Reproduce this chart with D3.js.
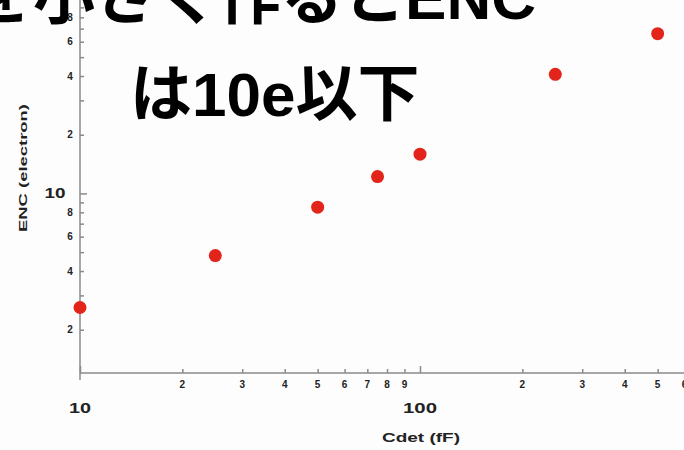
<!DOCTYPE html>
<html>
<head>
<meta charset="utf-8">
<script src="https://cdn.jsdelivr.net/npm/d3@7"></script>
<style>
  body { margin: 0; background: #fdfdfd; }
  svg { display: block; }
  .axis path, .axis line { stroke: #8a8a8a; stroke-width: 1.5; }
  .tk { font-family: "Liberation Sans", Arial, sans-serif; font-weight: bold; fill: #222; }
  .title { font-family: "Liberation Sans", "Noto Sans CJK JP", sans-serif; font-weight: bold; fill: #000; }
</style>
</head>
<body>
<script>
// data
var cdet = [10, 25, 50, 75, 100, 250, 500];      // fF
var enc = [2.6, 4.8, 8.5, 12.2, 15.9, 40.8, 66];  // electrons

var xMajor = [10, 100];
var xMinor = [20, 30, 40, 50, 60, 70, 80, 90, 200, 300, 400, 500, 600, 700, 800, 900];
var yMajor = [10];
var yMinor = [2, 3, 4, 5, 6, 7, 8, 9, 20, 30, 40, 50, 60, 70, 80, 90];
var yLabelled = [2, 4, 6, 8, 20, 40, 60, 80];

var titleLines = ["Cdetを小さく作るとENC", "は10e以下"];

var W = 684, H = 450;

var svg = d3.select("body").append("svg")
    .attr("width", W)
    .attr("height", H);

// scales
var x = d3.scaleLog().domain([10, 1000]).range([80, 760]);
var y = d3.scaleLog().domain([1.2, 100]).range([373, 373 - 195 * Math.log10(100 / 1.2)]);

// x axis, ticks point inward
svg.append("g")
    .attr("class", "axis")
    .attr("transform", "translate(0,373)")
    .call(d3.axisBottom(x).tickValues(xMinor).tickSize(-4).tickFormat("").tickSizeOuter(0))
    .call(g => g.select(".domain").attr("d", "M" + x(10) + ",0H" + x(1000)));
svg.append("g")
    .attr("class", "axis")
    .attr("transform", "translate(0,373)")
    .call(d3.axisBottom(x).tickValues(xMajor).tickSize(-7).tickFormat("").tickSizeOuter(0))
    .call(g => g.select(".domain").remove());

// y axis
svg.append("g")
    .attr("class", "axis")
    .attr("transform", "translate(80,0)")
    .call(d3.axisLeft(y).tickValues(yMinor).tickSize(-4).tickFormat("").tickSizeOuter(0))
    .call(g => g.select(".domain").attr("d", "M0,380V" + y(100)));
svg.append("g")
    .attr("class", "axis")
    .attr("transform", "translate(80,0)")
    .call(d3.axisLeft(y).tickValues(yMajor).tickSize(-7).tickFormat("").tickSizeOuter(0))
    .call(g => g.select(".domain").remove());

// tick labels
svg.selectAll(".xminor").data(xMinor).enter().append("text")
    .attr("class", "tk")
    .attr("x", d => x(d))
    .attr("y", 388)
    .attr("text-anchor", "middle")
    .style("font-size", "10px")
    .text(d => String(d)[0]);
svg.selectAll(".xmajor").data(xMajor).enter().append("text")
    .attr("class", "tk")
    .attr("x", d => x(d))
    .attr("y", 413)
    .attr("text-anchor", "middle")
    .attr("textLength", d => d < 100 ? 22 : 34)
    .attr("lengthAdjust", "spacingAndGlyphs")
    .style("font-size", "14px")
    .text(d => d);
svg.selectAll(".yminor").data(yLabelled).enter().append("text")
    .attr("class", "tk")
    .attr("x", 70)
    .attr("y", d => y(d) + 3.5)
    .attr("text-anchor", "middle")
    .style("font-size", "10px")
    .text(d => String(d)[0]);
svg.selectAll(".ymajor").data(yMajor).enter().append("text")
    .attr("class", "tk")
    .attr("x", 55)
    .attr("y", d => y(d) + 5)
    .attr("text-anchor", "middle")
    .attr("textLength", 21)
    .attr("lengthAdjust", "spacingAndGlyphs")
    .style("font-size", "14px")
    .text(d => d);

// axis titles
svg.append("text")
    .attr("class", "tk")
    .attr("x", 421)
    .attr("y", 442)
    .attr("text-anchor", "middle")
    .attr("textLength", 78)
    .attr("lengthAdjust", "spacingAndGlyphs")
    .style("font-size", "12px")
    .text("Cdet (fF)");
svg.append("text")
    .attr("class", "tk")
    .attr("transform", "translate(27,168) rotate(-90)")
    .attr("text-anchor", "middle")
    .attr("textLength", 128)
    .attr("lengthAdjust", "spacingAndGlyphs")
    .style("font-size", "11px")
    .text("ENC (electron)");

// points
svg.selectAll(".pt").data(cdet).enter().append("circle")
    .attr("cx", d => x(d))
    .attr("cy", (d, i) => y(enc[i]))
    .attr("r", 6.5)
    .attr("fill", "#e3241b");

// slide title overlapping the plot
svg.append("text")
    .attr("class", "title")
    .attr("x", 536)
    .attr("y", 19)
    .attr("text-anchor", "end")
    .style("font-size", "62px")
    .text(titleLines[0]);
svg.append("text")
    .attr("class", "title")
    .attr("x", 130)
    .attr("y", 116)
    .style("font-size", "62px")
    .text(titleLines[1]);
</script>
</body>
</html>
